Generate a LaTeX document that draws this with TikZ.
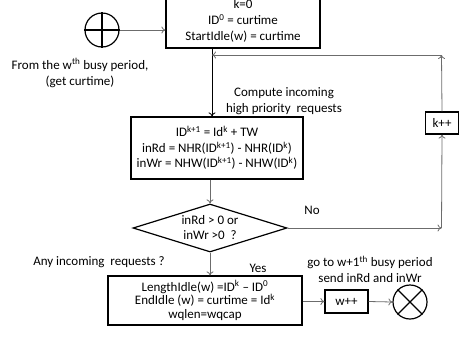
\documentclass[tikz,border=0pt]{standalone}
\usepackage{fontspec}
\setmainfont{Carlito}
\usetikzlibrary{shapes.geometric,arrows.meta}
\begin{document}
\begin{tikzpicture}[x=1pt,y=-1pt,
  every node/.style={font=\fontsize{13}{16}\selectfont},
  box/.style={draw=black,line width=1.2pt,align=center,inner sep=0pt},
  conn/.style={draw=gray!85!black,line width=0.8pt,-{To[length=4pt,width=7pt]}},
  disk/.style={circle,draw=black,line width=1.2pt,minimum size=34pt,inner sep=0pt},
  lbl/.style={align=center,inner sep=0pt}]
\useasboundingbox (0,0) rectangle (470,338);
% boxes
\node[box,minimum width=154pt,minimum height=54pt] (top) at (243,21) {k=0\\ID\textsuperscript{0} = curtime\\StartIdle(w) = curtime};
\node[box,minimum width=172pt,minimum height=62pt,font=\fontsize{13}{15.5}\selectfont] (mid) at (217,148) {ID\textsuperscript{k+1} = Id\textsuperscript{k} + TW\\inRd = NHR(ID\textsuperscript{k+1}) - NHR(ID\textsuperscript{k})\\inWr = NHW(ID\textsuperscript{k+1}) - NHW(ID\textsuperscript{k})};
\node[draw=black,line width=1.2pt,shape=diamond,aspect=3.2,inner sep=0pt,minimum width=154pt,minimum height=48pt,align=center,font=\fontsize{13}{15}\selectfont] (d) at (210,228) {inRd > 0 or\\inWr >0\ \ ?};
\node[box,minimum width=194pt,minimum height=49pt,font=\fontsize{13}{13.5}\selectfont] (bot) at (205,300.5) {LengthIdle(w) =ID\textsuperscript{k} -- ID\textsuperscript{0}\\EndIdle (w) = curtime = Id\textsuperscript{k}\\wqlen=wqcap};
\node[box,minimum width=33pt,minimum height=22pt] (kpp) at (442,123) {k++};
\node[box,minimum width=43pt,minimum height=23pt] (wpp) at (346.5,301.5) {w++};
% start / end symbols
\node[disk] (start) at (102,30) {};
\draw[line width=1.2pt] (start.north) -- (start.south) (start.west) -- (start.east);
\node[disk] (stop) at (410,302) {};
\draw[line width=1.2pt] (stop.north east) -- (stop.south west) (stop.north west) -- (stop.south east);
% labels
\node[lbl] (from) at (80,73) {From the w\textsuperscript{th} busy period,\\(get curtime)};
\node[lbl] (comp) at (284,101.5) {Compute incoming\\high priority\ \ requests};
\node[lbl] (no) at (312,210) {No};
\node[lbl] (yes) at (258,268) {Yes};
\node[lbl] (any) at (99,262) {Any incoming\ \ requests ?};
\node[lbl] (goto) at (370,269.5) {go to w+1\textsuperscript{th} busy period\\send inRd and inWr};
% connector helpers
\coordinate (vx) at (212,0);
\coordinate (fb) at (441.5,55);
\coordinate (nr) at (441.5,228);
% connectors
\draw[conn] (start.east) -- (top.west |- start.east);
\draw[line width=0.8pt,black,-{To[length=4pt,width=7pt]}] (top.south -| vx) -- (mid.north -| vx);
\draw[conn] (mid.south -| d.north) -- (d.north);
\draw[conn] (d.east) -- (nr);
\draw[conn] (nr) -- (kpp.south);
\draw[conn] (kpp.north) -- (fb);
\draw[conn] (fb) -- (fb -| vx);
\draw[conn] (d.south) -- (bot.north -| d.south);
\draw[conn] (wpp.west -| bot.east) -- (wpp.west);
\draw[conn] (wpp.east) -- (stop.west);
\end{tikzpicture}
\end{document}
